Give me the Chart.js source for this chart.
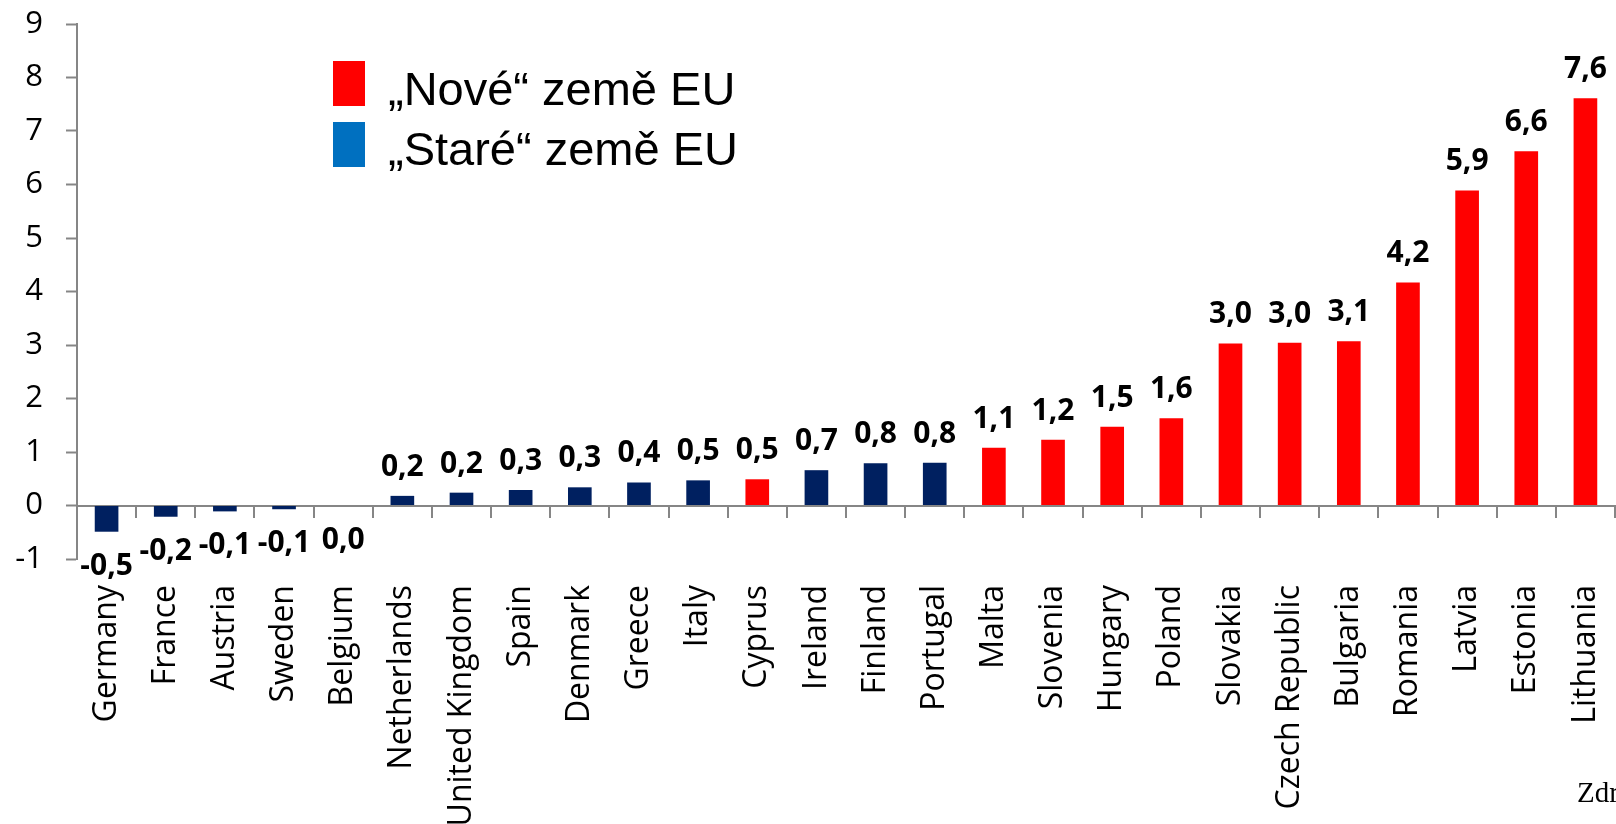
<!DOCTYPE html>
<html>
<head>
<meta charset="utf-8">
<script src="https://cdn.jsdelivr.net/npm/chart.js@4/dist/chart.umd.min.js"></script>
<style>
  html, body { margin: 0; padding: 0; background: #fff; overflow: hidden; }
  canvas { display: block; }
</style>
</head>
<body>
<canvas id="myChart" width="1616" height="824"></canvas>
<script>
// DATA
const countries = ["Germany", "France", "Austria", "Sweden", "Belgium", "Netherlands",
    "United Kingdom", "Spain", "Denmark", "Greece", "Italy", "Cyprus", "Ireland", "Finland",
    "Portugal", "Malta", "Slovenia", "Hungary", "Poland", "Slovakia", "Czech Republic",
    "Bulgaria", "Romania", "Latvia", "Estonia", "Lithuania"];
const values = [-0.49, -0.21, -0.11, -0.07, 0, 0.18, 0.24, 0.29, 0.34, 0.43, 0.47, 0.49,
    0.66, 0.79, 0.80, 1.08, 1.23, 1.47, 1.63, 3.03, 3.04, 3.07, 4.17, 5.89, 6.62, 7.61];
const newMembers = ["Cyprus", "Malta", "Slovenia", "Hungary", "Poland", "Slovakia",
    "Czech Republic", "Bulgaria", "Romania", "Latvia", "Estonia", "Lithuania"];
const legendLabels = ["\u201eNové\u201c země EU", "\u201eStaré\u201c země EU"];
const yTicks = [-1, 0, 1, 2, 3, 4, 5, 6, 7, 8, 9];
const sourceText = "Zdroj:";

const RED = "#ff0000";
const NAVY = "#002060";
const BLUE = "#0070c0";
const AXIS = "#868686";

const fmt = v => v.toFixed(1).replace(".", ",");

// labels above / below the bars
const valueLabels = {
    id: "valueLabels",
    afterDatasetsDraw(chart) {
        const ctx = chart.ctx;
        const meta = chart.getDatasetMeta(0);
        ctx.save();
        ctx.font = "bold 30px 'Open Sans'";
        ctx.fillStyle = "#000";
        ctx.textAlign = "center";
        ctx.textBaseline = "alphabetic";
        meta.data.forEach((bar, i) => {
            const v = values[i];
            const y = v > 0 ? bar.y - 20 : bar.y + 43;
            ctx.fillText(fmt(v), bar.x, y);
        });
        ctx.restore();
    }
};

// legend inside the plot + source note
const extras = {
    id: "extras",
    afterDraw(chart) {
        const ctx = chart.ctx;
        ctx.save();
        ctx.fillStyle = RED;
        ctx.fillRect(333, 61, 32, 45);
        ctx.fillStyle = BLUE;
        ctx.fillRect(333, 122, 32, 45);
        ctx.fillStyle = "#000";
        ctx.font = "47px 'Liberation Sans'";
        ctx.textBaseline = "alphabetic";
        ctx.fillText(legendLabels[0], 388, 105);
        ctx.fillText(legendLabels[1], 388, 165);
        ctx.font = "29px 'Liberation Serif'";
        ctx.fillText(sourceText, 1577, 802);
        ctx.restore();
    }
};

const ctx = document.getElementById("myChart").getContext("2d");

new Chart(ctx, {
    type: "bar",
    data: {
        labels: countries,
        datasets: [{
            data: values,
            backgroundColor: countries.map(c => newMembers.includes(c) ? RED : NAVY),
            categoryPercentage: 1,
            barPercentage: 0.4
        }]
    },
    options: {
        responsive: false,
        animation: false,
        devicePixelRatio: 1,
        layout: { padding: { top: 24, right: 1, bottom: 0, left: 0 } },
        plugins: {
            legend: { display: false },
            tooltip: { enabled: false }
        },
        scales: {
            x: {
                grid: { display: false, drawTicks: false },
                border: { display: false },
                ticks: {
                    autoSkip: false,
                    minRotation: 90,
                    maxRotation: 90,
                    padding: 26,
                    color: "#000",
                    font: { family: "'Open Sans'", size: 32 }
                },
                afterFit(axis) {
                    axis.height = 265;
                    axis.paddingLeft = 0;
                    axis.paddingRight = 0;
                }
            },
            x2: {
                type: "category",
                position: { y: 0 },
                offset: true,
                ticks: { display: false },
                grid: {
                    display: true,
                    offset: true,
                    drawOnChartArea: false,
                    drawTicks: true,
                    tickLength: 11,
                    color: AXIS,
                    lineWidth: 2
                },
                border: { display: true, color: AXIS, width: 2 }
            },
            y: {
                min: yTicks[0],
                max: yTicks[yTicks.length - 1],
                afterBuildTicks(axis) { axis.ticks = yTicks.map(v => ({ value: v })); },
                ticks: {
                    padding: 23,
                    color: "#000",
                    font: { family: "'Open Sans'", size: 31 }
                },
                grid: {
                    drawOnChartArea: false,
                    drawTicks: true,
                    tickLength: 11,
                    tickColor: AXIS,
                    tickWidth: 2
                },
                border: { display: true, color: AXIS, width: 2 },
                afterFit(axis) {
                    axis.width = 77;
                    axis.paddingTop = 0;
                    axis.paddingBottom = 0;
                }
            }
        }
    },
    plugins: [valueLabels, extras]
});
</script>
</body>
</html>
